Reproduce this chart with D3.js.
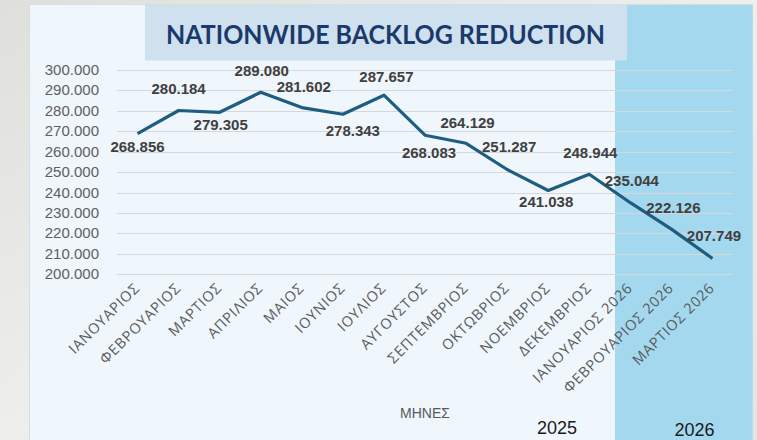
<!DOCTYPE html>
<html>
<head>
<meta charset="utf-8">
<script src="https://cdn.jsdelivr.net/npm/d3@7"></script>
<style>
  html, body { margin: 0; padding: 0; background: #e9e9e6; }
  svg { display: block; }
</style>
</head>
<body>
<svg id="chart" width="757" height="440"></svg>
<script>
// chart data
const months = ['ΙΑΝΟΥΑΡΙΟΣ', 'ΦΕΒΡΟΥΑΡΙΟΣ', 'ΜΑΡΤΙΟΣ', 'ΑΠΡΙΛΙΟΣ', 'ΜΑΙΟΣ', 'ΙΟΥΝΙΟΣ', 'ΙΟΥΛΙΟΣ',
  'ΑΥΓΟΥΣΤΟΣ', 'ΣΕΠΤΕΜΒΡΙΟΣ', 'ΟΚΤΩΒΡΙΟΣ', 'ΝΟΕΜΒΡΙΟΣ', 'ΔΕΚΕΜΒΡΙΟΣ',
  'ΙΑΝΟΥΑΡΙΟΣ 2026', 'ΦΕΒΡΟΥΑΡΙΟΣ 2026', 'ΜΑΡΤΙΟΣ 2026'];
const backlog = [268856, 280184, 279305, 289080, 281602, 278343, 287657,
  268083, 264129, 251287, 241038, 248944, 235044, 222126, 207749];
const yTicks = [200000, 210000, 220000, 230000, 240000, 250000, 260000, 270000, 280000, 290000, 300000];
const years = ['2025', '2026'];
const title = 'NATIONWIDE BACKLOG REDUCTION';
const axisTitle = 'ΜΗΝΕΣ';

// label offsets (dx, dy) from each point, like excel's auto placement
const labelOffsets = [[0, 13], [0, -21.5], [1, 12], [1, -22], [2, -21], [10, 16], [2.5, -18.5],
  [4, 17.5], [1.5, -21], [2, -23], [-2, 11], [1, -21.5], [1.5, -22], [2, -22], [1.5, -22.5]];

const svg = d3.select('#chart');

// outer background with a soft texture feel
const defs = svg.append('defs');
const bg = defs.append('linearGradient').attr('id', 'bgGrad')
  .attr('x1', 0).attr('y1', 0).attr('x2', 1).attr('y2', 1);
bg.append('stop').attr('offset', '0%').attr('stop-color', '#dfdfdc');
bg.append('stop').attr('offset', '50%').attr('stop-color', '#eeeeec');
bg.append('stop').attr('offset', '100%').attr('stop-color', '#e4e4e1');
svg.append('rect').attr('width', 757).attr('height', 440).attr('fill', 'url(#bgGrad)');

// panel
svg.append('rect').attr('x', 29.5).attr('y', 4.5).attr('width', 723).attr('height', 440)
  .attr('fill', '#eff6fc').attr('stroke', '#d6dde3');

// 2026 band
svg.append('rect').attr('x', 615).attr('y', 5).attr('width', 137.5).attr('height', 435)
  .attr('fill', '#a3d8ef');

// title box
svg.append('rect').attr('x', 145).attr('y', 5).attr('width', 482).attr('height', 55.5)
  .attr('fill', '#cfe0ef');
svg.append('text').attr('x', 385.5).attr('y', 43.5)
  .attr('text-anchor', 'middle')
  .attr('font-family', 'Lato, "Open Sans", sans-serif')
  .attr('font-weight', 'bold').attr('font-size', 27)
  .attr('textLength', 439).attr('lengthAdjust', 'spacingAndGlyphs')
  .attr('fill', '#1b3a6b')
  .text(title);

// scales
const x = d3.scalePoint().domain(months).range([117, 733]).padding(0.5);
const y = d3.scaleLinear().domain([200000, 300000]).range([274.3, 70]);
const fmt = v => d3.format(',')(v).replace(/,/g, '.');

// gridlines
svg.append('g').selectAll('line')
  .data(yTicks)
  .join('line')
  .attr('x1', 117).attr('x2', 733)
  .attr('y1', d => Math.round(y(d)) + 0.5).attr('y2', d => Math.round(y(d)) + 0.5)
  .attr('stroke', '#d5d8db').attr('stroke-width', 1.2);

// y axis labels
svg.append('g').selectAll('text')
  .data(yTicks)
  .join('text')
  .attr('x', 99).attr('y', d => y(d) + 5)
  .attr('text-anchor', 'end')
  .attr('font-family', '"Liberation Sans", Arial, sans-serif')
  .attr('font-size', 15).attr('fill', '#5f5f5f')
  .text(d => d3.format('.3f')(d / 1000));

// x axis labels, rotated
svg.append('g').selectAll('text')
  .data(months)
  .join('text')
  .attr('transform', d => `translate(${x(d) + 3},${289}) rotate(-45)`)
  .attr('text-anchor', 'end')
  .attr('font-family', '"Open Sans", "Liberation Sans", sans-serif')
  .attr('font-size', 14.5).attr('letter-spacing', 0.8).attr('fill', '#5a5a5a')
  .text(d => d);

// line
const line = d3.line()
  .x((d, i) => x(months[i]))
  .y(d => y(d));
svg.append('path')
  .datum(backlog)
  .attr('d', line)
  .attr('fill', 'none')
  .attr('stroke', '#1e5d80')
  .attr('stroke-width', 3.2)
  .attr('stroke-linejoin', 'round');

// data labels
svg.append('g').selectAll('text')
  .data(backlog)
  .join('text')
  .attr('x', (d, i) => x(months[i]) + labelOffsets[i][0])
  .attr('y', (d, i) => y(d) + labelOffsets[i][1] + 5.5)
  .attr('text-anchor', 'middle')
  .attr('font-family', '"Liberation Sans", Arial, sans-serif')
  .attr('font-weight', 'bold').attr('font-size', 15)
  .attr('fill', '#404040')
  .text(d => fmt(d));

// axis title
svg.append('text').attr('x', 425).attr('y', 418)
  .attr('text-anchor', 'middle')
  .attr('font-family', '"Liberation Sans", Arial, sans-serif')
  .attr('font-size', 14).attr('fill', '#595959')
  .text(axisTitle);

// year labels under each period
svg.append('g').selectAll('text')
  .data(years)
  .join('text')
  .attr('x', (d, i) => i === 0 ? 557 : 694.5)
  .attr('y', (d, i) => i === 0 ? 434 : 436)
  .attr('text-anchor', 'middle')
  .attr('font-family', '"Liberation Sans", Arial, sans-serif')
  .attr('font-size', 18).attr('fill', '#1a1a1a')
  .text(d => d);
</script>
</body>
</html>
